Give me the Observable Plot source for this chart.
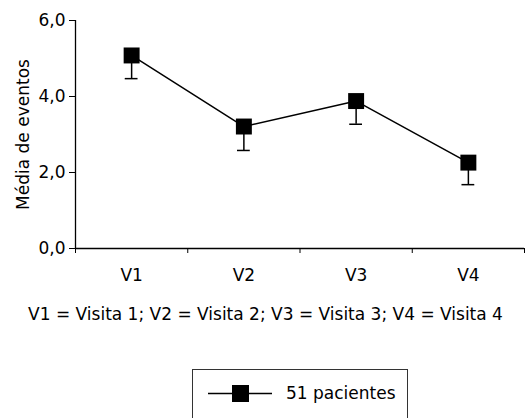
<!DOCTYPE html>
<html><head><meta charset="utf-8">
<script src="https://cdn.jsdelivr.net/npm/d3@7"></script>
<script src="https://cdn.jsdelivr.net/npm/@observablehq/plot@0.6"></script>
<style>
body{margin:0;background:#fff;font-family:"DejaVu Sans",sans-serif;color:#000;}
#wrap{position:relative;width:525px;height:418px;overflow:hidden;}
#chart{position:absolute;left:0;top:0;}
#caption{position:absolute;left:0;width:531px;top:302px;text-align:center;font-size:17px;line-height:24px;white-space:nowrap;}
#legend{position:absolute;left:192px;top:369px;width:214px;height:70px;border:1px solid #333;}
#legend svg{position:absolute;left:0;top:0;}
#legend span{position:absolute;left:93px;top:11px;font-size:17px;line-height:24px;white-space:nowrap;}
</style></head><body>
<div id="wrap"><div id="chart"></div><div id="caption"></div><div id="legend"></div></div>
<script>
const visits = ["V1", "V2", "V3", "V4"];
const means = [5.08, 3.21, 3.88, 2.26];
const lowers = [4.47, 2.58, 3.27, 1.68];
const yTicks = [0, 2, 4, 6];
const yLabel = "Média de eventos";
const seriesLabel = "51 pacientes";
const captionText = "V1 = Visita 1; V2 = Visita 2; V3 = Visita 3; V4 = Visita 4";

const data = visits.map((v, i) => ({visit: v, i: i + 1, mean: means[i], lower: lowers[i]}));
const capHalf = 0.057;
const fmt = d => d.toFixed(1).replace(".", ",");
const bounds = d3.range(visits.length + 1).map(k => k + 0.5);

const chart = Plot.plot({
  width: 525, height: 290,
  marginTop: 20, marginBottom: 42, marginLeft: 75, marginRight: 1,
  style: {fontFamily: "DejaVu Sans", fontSize: "17px", color: "#000", background: "#fff"},
  x: {domain: [0.5, visits.length + 0.5]},
  y: {domain: [0, 6]},
  marks: [
    Plot.axisY(yTicks, {tickFormat: fmt, tickSize: 6, tickPadding: 4, label: null, fontSize: 17}),
    Plot.axisX(bounds, {tickSize: 5, tickFormat: () => "", label: null}),
    Plot.axisX(d3.range(1, visits.length + 1), {tickSize: 0, tickPadding: 20, tickFormat: i => visits[i - 1], label: null, fontSize: 17}),
    Plot.text([yLabel], {frameAnchor: "left", textAnchor: "middle", dx: -52, rotate: -90, fontSize: 17}),
    Plot.ruleX([0.5], {stroke: "#000", strokeWidth: 1.3}),
    Plot.ruleY([0], {stroke: "#000", strokeWidth: 1.3}),
    Plot.ruleX(data, {x: "i", y1: "lower", y2: "mean", stroke: "#000", strokeWidth: 1.5}),
    Plot.ruleY(data, {y: "lower", x1: d => d.i - capHalf, x2: d => d.i + capHalf, stroke: "#000", strokeWidth: 1.5}),
    Plot.line(data, {x: "i", y: "mean", stroke: "#000", strokeWidth: 1.5}),
    Plot.dot(data, {x: "i", y: "mean", symbol: "square", r: 9, fill: "#000", stroke: "none"})
  ]
});
document.getElementById("chart").append(chart);
document.getElementById("caption").textContent = captionText;

const lg = document.getElementById("legend");
lg.innerHTML = `<svg width="214" height="60"><line x1="15" x2="79" y1="23.5" y2="23.5" stroke="#000" stroke-width="1.5"/><rect x="39" y="15" width="17" height="17" fill="#000"/></svg>`;
const sp = document.createElement("span");
sp.textContent = seriesLabel;
lg.append(sp);
</script>
</body></html>
